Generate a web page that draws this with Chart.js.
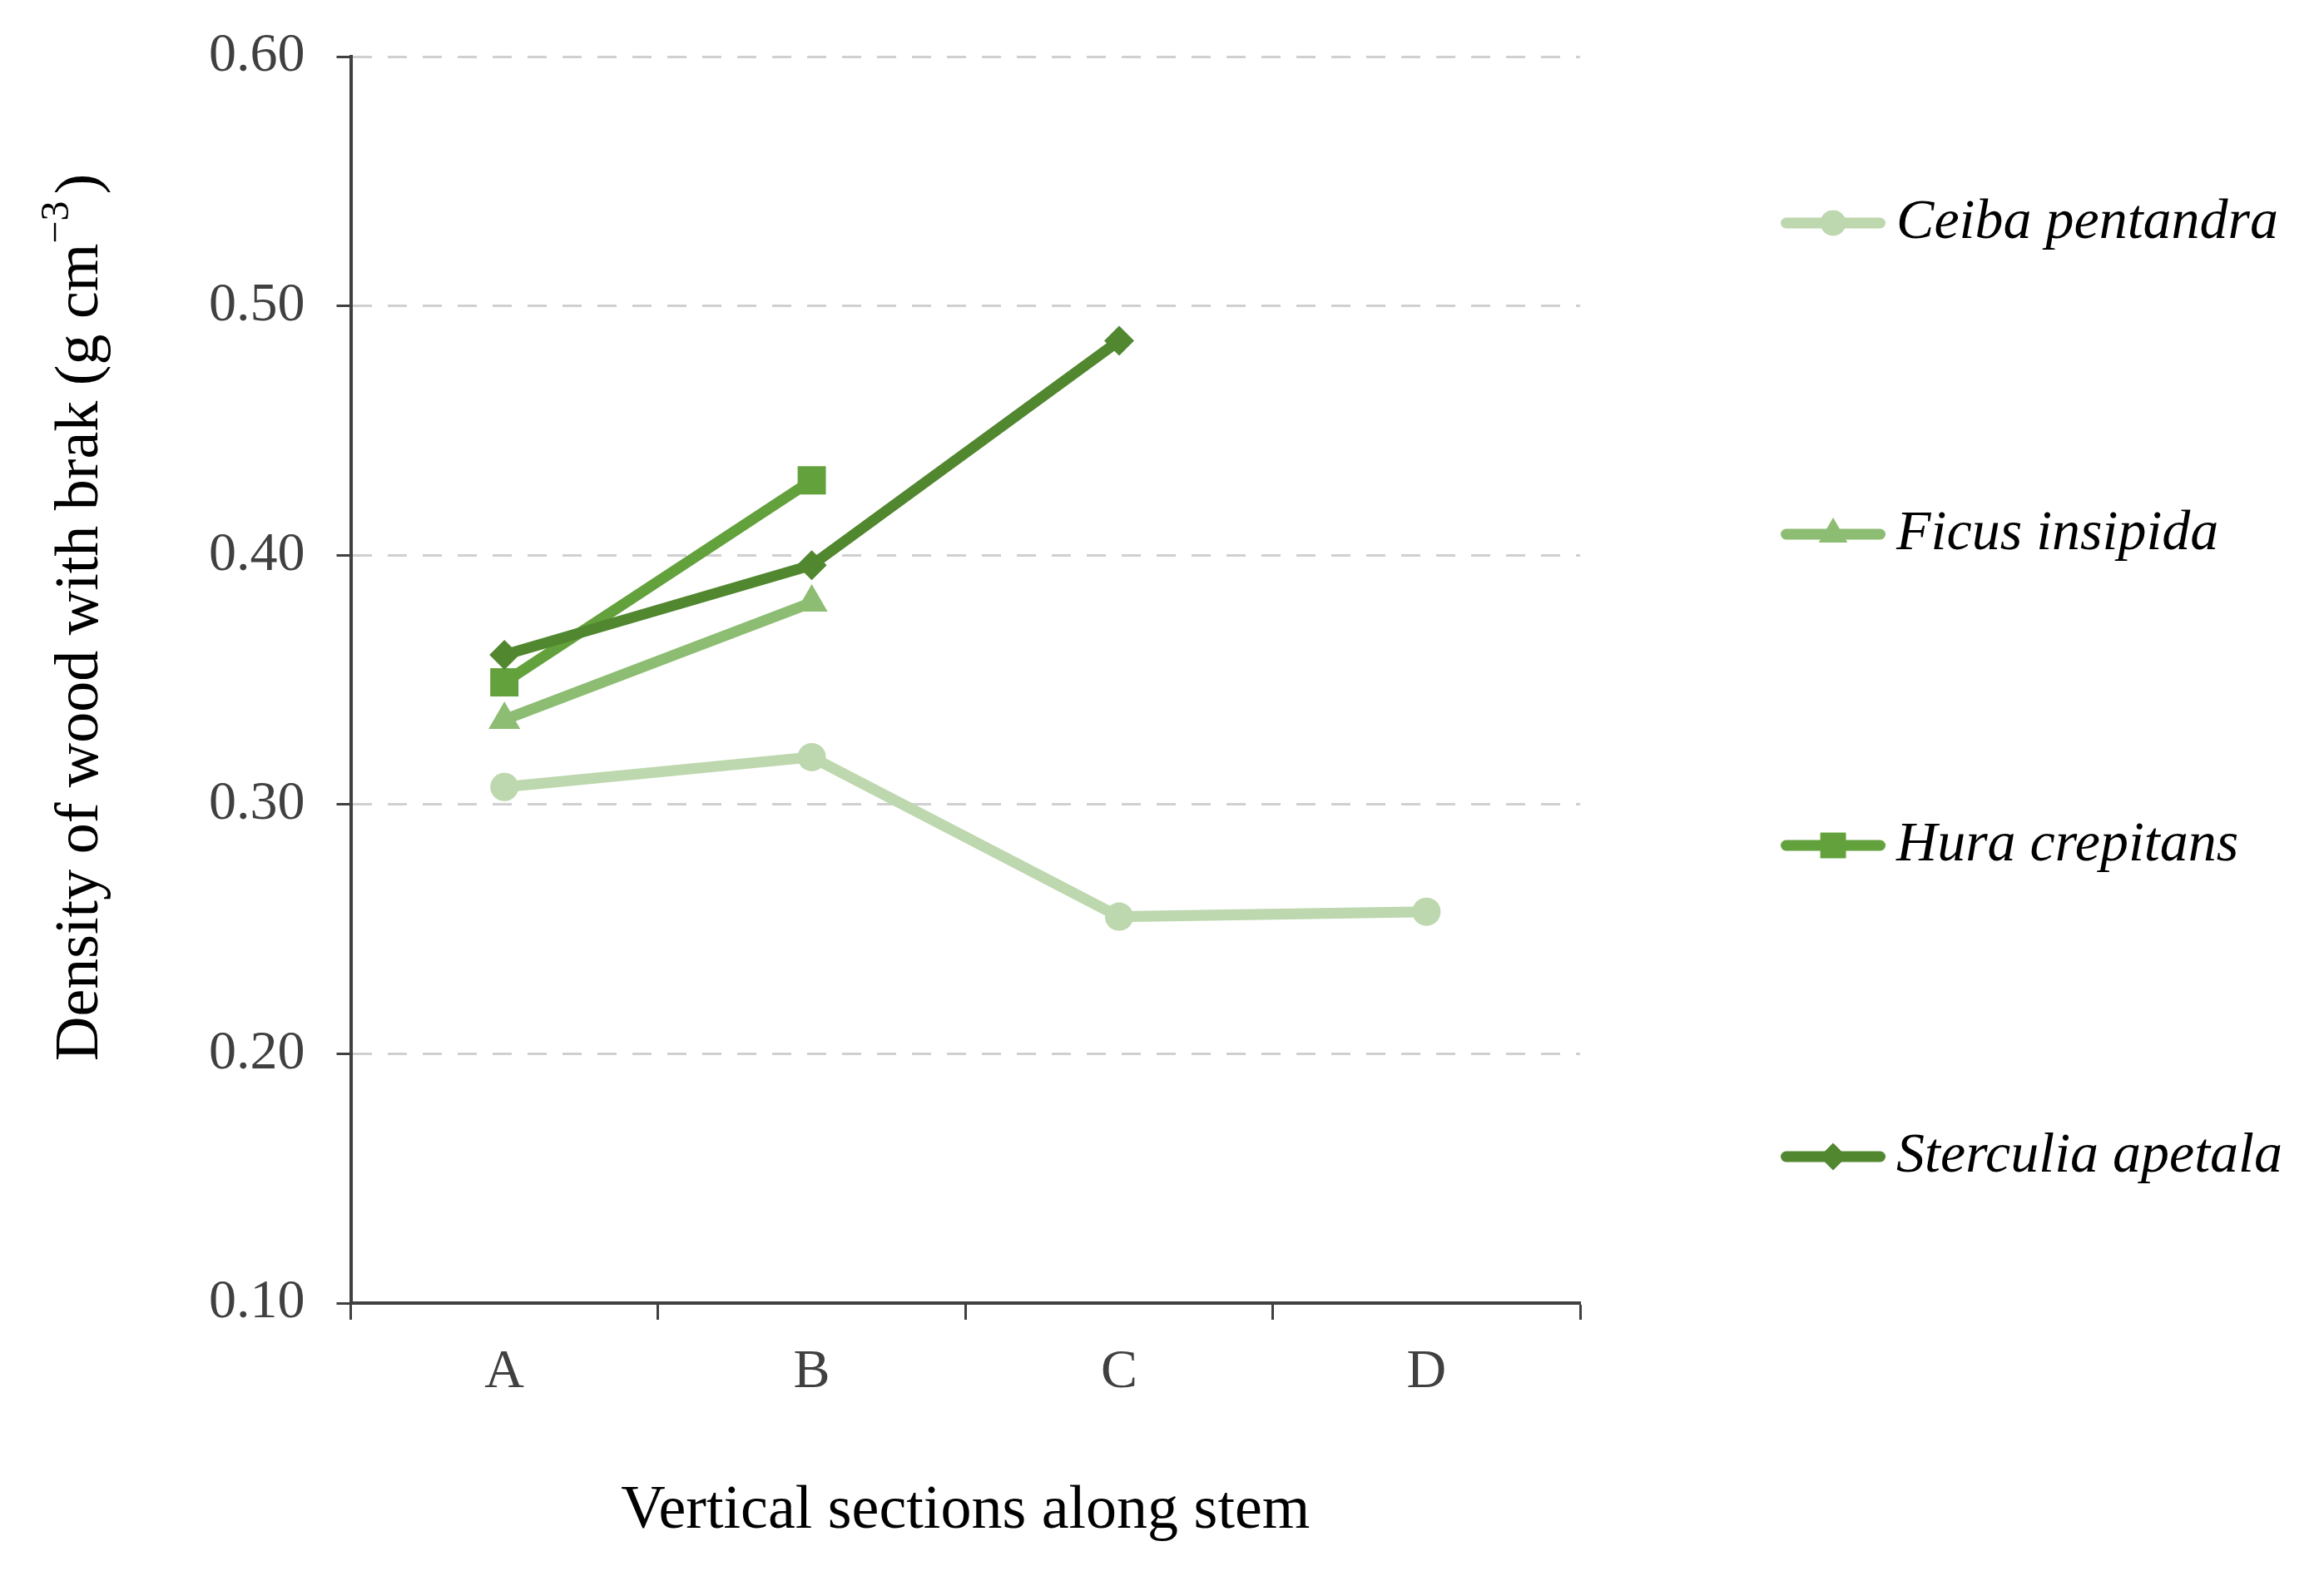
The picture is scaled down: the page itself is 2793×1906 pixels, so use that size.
<!DOCTYPE html>
<html>
<head>
<meta charset="utf-8">
<script src="https://cdn.jsdelivr.net/npm/chart.js@4.4.1/dist/chart.umd.min.js"></script>
<style>
  html, body { margin: 0; padding: 0; background: #ffffff; }
  #c { display: block; }
</style>
</head>
<body>
<canvas id="c" width="2793" height="1906"></canvas>
<script>
// ---- data ----
const categories = ['A', 'B', 'C', 'D'];
const seriesNames = ['Ceiba pentandra', 'Ficus insipida', 'Hura crepitans', 'Sterculia apetala'];
const ceibaValues = [0.307, 0.319, 0.255, 0.257];
const ficusValues = [0.334, 0.381, null, null];
const huraValues = [0.349, 0.430, null, null];
const sterculiaValues = [0.360, 0.396, 0.486, null];
const yTicks = [0.10, 0.20, 0.30, 0.40, 0.50, 0.60];
const xTitle = 'Vertical sections along stem';
const yTitleMain = 'Density of wood with brak (g cm';
const yTitleSup = '\u22123';
const yTitleEnd = ')';

// ---- styles ----
const colors = ['#bdd7ae', '#8dbd72', '#63a13c', '#51872f'];
const pointStyles = ['circle', 'triangle', 'rect', 'rectRot'];
const pointRadii = [17, 22, 24, 18];
const serif = '"Liberation Serif", "Times New Roman", serif';

function makeLegendImage(color, style, radius) {
  const cv = document.createElement('canvas');
  cv.width = 226; cv.height = 52;
  const c = cv.getContext('2d');
  c.strokeStyle = color; c.fillStyle = color;
  c.lineWidth = 13; c.lineCap = 'round';
  c.beginPath(); c.moveTo(104.5, 26); c.lineTo(217.5, 26); c.stroke();
  Chart.helpers.drawPoint(c, {pointStyle: style, radius: radius, borderWidth: 0, rotation: 0}, 161, 26);
  c.fill();
  return cv;
}

const valuesList = [ceibaValues, ficusValues, huraValues, sterculiaValues];
const datasets = valuesList.map((vals, i) => ({
  label: seriesNames[i],
  data: vals,
  borderColor: colors[i],
  backgroundColor: colors[i],
  pointBackgroundColor: colors[i],
  pointBorderColor: colors[i],
  pointBorderWidth: 0,
  pointStyle: pointStyles[i],
  pointRadius: pointRadii[i],
  pointHoverRadius: pointRadii[i],
  borderWidth: 13,
  tension: 0,
  spanGaps: false,
  order: 3 - i
}));

const yTitlePlugin = {
  id: 'yTitlePlugin',
  afterDraw(chart) {
    const ctx = chart.ctx;
    const ca = chart.chartArea;
    ctx.save();
    ctx.translate(ca.left - 324, ca.top + 674);
    ctx.rotate(-Math.PI / 2);
    const mainFont = '74px ' + serif;
    const supFont = '48px ' + serif;
    ctx.font = mainFont; const w1 = ctx.measureText(yTitleMain).width;
    ctx.font = supFont; const w2 = ctx.measureText(yTitleSup).width;
    ctx.font = mainFont; const w3 = ctx.measureText(yTitleEnd).width;
    let x = -(w1 + w2 + w3 + 8) / 2;
    ctx.textBaseline = 'middle';
    ctx.textAlign = 'left';
    ctx.fillStyle = '#000000';
    ctx.font = mainFont; ctx.fillText(yTitleMain, x, 0); x += w1;
    ctx.font = supFont; ctx.fillText(yTitleSup, x, -28); x += w2 + 8;
    ctx.font = mainFont; ctx.fillText(yTitleEnd, x, 0);
    ctx.restore();
  }
};

new Chart(document.getElementById('c'), {
  type: 'line',
  data: { labels: categories, datasets: datasets },
  plugins: [yTitlePlugin],
  options: {
    responsive: false,
    devicePixelRatio: 1,
    animation: false,
    layout: { padding: { left: 213, right: 40, top: 68, bottom: 45 } },
    plugins: {
      tooltip: { enabled: false },
      legend: {
        display: true,
        position: 'right',
        align: 'start',
        maxWidth: 1200,
        labels: {
          usePointStyle: true,
          pointStyleWidth: 180,
          padding: 166,
          color: '#000000',
          font: { family: serif, size: 68, style: 'italic', lineHeight: 208 / 68 },
          generateLabels(chart) {
            return chart.data.datasets.map((ds, i) => ({
              text: [ds.label],
              fillStyle: ds.borderColor,
              strokeStyle: ds.borderColor,
              lineWidth: 0,
              hidden: false,
              pointStyle: makeLegendImage(ds.borderColor, pointStyles[i], pointRadii[i] * 0.9),
              datasetIndex: i
            }));
          }
        }
      }
    },
    scales: {
      x: {
        type: 'category',
        offset: true,
        grid: {
          offset: true,
          drawOnChartArea: false,
          drawTicks: true,
          tickLength: 20,
          tickWidth: 3,
          tickColor: '#404040'
        },
        border: { display: true, color: '#404040', width: 4 },
        ticks: {
          color: '#404040',
          padding: 24,
          font: { family: serif, size: 66 }
        },
        title: {
          display: true,
          text: xTitle,
          color: '#000000',
          font: { family: serif, size: 74 },
          padding: { top: 59, bottom: 0 }
        }
      },
      y: {
        type: 'linear',
        min: yTicks[0],
        max: yTicks[yTicks.length - 1],
        afterBuildTicks(scale) { scale.ticks = yTicks.map(v => ({ value: v })); },
        grid: {
          color: '#d0d0d0',
          lineWidth: 3,
          drawTicks: true,
          tickLength: 17,
          tickWidth: 3,
          tickColor: '#404040',
          tickBorderDash: []
        },
        border: { display: true, color: '#404040', width: 4, dash: [23, 19] },
        ticks: {
          color: '#404040',
          padding: 38,
          font: { family: serif, size: 66, lineHeight: 0.6 },
          callback: (v) => Number(v).toFixed(2)
        }
      }
    }
  }
});
</script>
</body>
</html>
